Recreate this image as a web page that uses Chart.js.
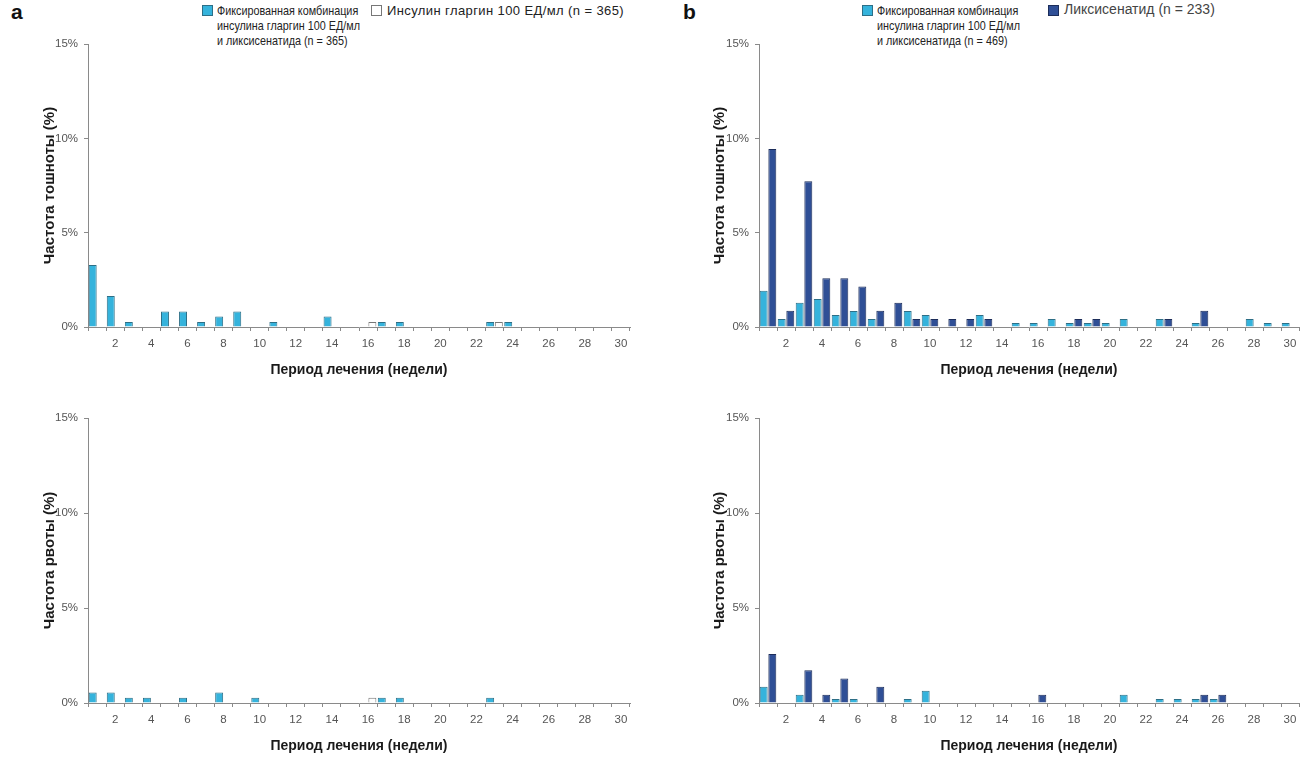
<!DOCTYPE html>
<html>
<head>
<meta charset="utf-8">
<script src="https://cdn.jsdelivr.net/npm/chart.js@4.4.1/dist/chart.umd.min.js"></script>
<style>
  body { margin: 0; width: 1306px; height: 760px; background: #fff; overflow: hidden; position: relative; }
  .pane { position: absolute; }
  .letter { position: absolute; font: bold 21px "Liberation Sans", Arial, sans-serif; color: #111; }
  .leg { position: absolute; font: 13px "Liberation Sans", Arial, sans-serif; line-height: 15px; color: #222; white-space: nowrap; transform-origin: 0 0; }
  .leg.narrow { transform: scaleX(0.83); }
  .leg.spaced { letter-spacing: 0.4px; }
  .leg.wide { font-size: 14px; color: #444; }
  .sw { position: absolute; width: 11px; height: 11px; box-sizing: border-box; }
</style>
</head>
<body>

<div class="letter" style="left:11px; top:0px;">a</div>
<div class="letter" style="left:683px; top:0px;">b</div>

<div class="sw" style="left:202px; top:5px; background:#35b3dc; border:1px solid #2d6f87;"></div>
<div class="leg narrow" style="left:217px; top:3px;">Фиксированная комбинация<br>инсулина гларгин 100 ЕД/мл<br>и ликсисенатида (n = 365)</div>
<div class="sw" style="left:371px; top:5px; background:#fff; border:1px solid #777;"></div>
<div class="leg spaced" style="left:387px; top:3px;">Инсулин гларгин 100 ЕД/мл (n = 365)</div>

<div class="sw" style="left:862px; top:5px; background:#35b3dc; border:1px solid #2d6f87;"></div>
<div class="leg narrow" style="left:877px; top:3px;">Фиксированная комбинация<br>инсулина гларгин 100 ЕД/мл<br>и ликсисенатида (n = 469)</div>
<div class="sw" style="left:1048px; top:5px; background:#2f4f96; border:1px solid #1c2d5a;"></div>
<div class="leg wide" style="left:1064px; top:2px;">Ликсисенатид (n = 233)</div>

<canvas id="aTop" class="pane" width="640" height="363" style="left:0px; top:20px;"></canvas>
<canvas id="aBot" class="pane" width="640" height="365" style="left:0px; top:394px;"></canvas>
<canvas id="bTop" class="pane" width="636" height="363" style="left:670px; top:20px;"></canvas>
<canvas id="bBot" class="pane" width="636" height="365" style="left:670px; top:394px;"></canvas>

<script>
  // weeks of treatment
  const weeks = Array.from({ length: 30 }, (_, i) => String(i + 1));
  const yTicks = [0, 5, 10, 15];

  // panel a: fixed combination (n = 365) vs insulin glargine (n = 365), % of patients
  const aNauseaFRC = [3.29, 1.64, 0.27, 0, 0.82, 0.82, 0.27, 0.55, 0.82, 0, 0.27, 0, 0, 0.55, 0, 0, 0.27, 0.27, 0, 0, 0, 0, 0.27, 0.27, 0, 0, 0, 0, 0, 0];
  const aNauseaGla = [0, 0, 0, 0, 0, 0, 0, 0, 0, 0, 0, 0, 0, 0, 0, 0.27, 0, 0, 0, 0, 0, 0, 0.27, 0, 0, 0, 0, 0, 0, 0];
  const aVomitFRC  = [0.55, 0.55, 0.27, 0.27, 0, 0.27, 0, 0.55, 0, 0.27, 0, 0, 0, 0, 0, 0, 0.27, 0.27, 0, 0, 0, 0, 0.27, 0, 0, 0, 0, 0, 0, 0];
  const aVomitGla  = [0, 0, 0, 0, 0, 0, 0, 0, 0, 0, 0, 0, 0, 0, 0, 0.27, 0, 0, 0, 0, 0, 0, 0, 0, 0, 0, 0, 0, 0, 0];

  // panel b: fixed combination (n = 469) vs lixisenatide (n = 233), % of patients
  const bNauseaFRC = [1.92, 0.43, 1.28, 1.49, 0.64, 0.85, 0.43, 0, 0.85, 0.64, 0, 0, 0.64, 0, 0.21, 0.21, 0.43, 0.21, 0.21, 0.21, 0.43, 0, 0.43, 0, 0.21, 0, 0, 0.43, 0.21, 0.21];
  const bNauseaLix = [9.44, 0.86, 7.73, 2.58, 2.58, 2.15, 0.86, 1.29, 0.43, 0.43, 0.43, 0.43, 0.43, 0, 0, 0, 0, 0.43, 0.43, 0, 0, 0, 0.43, 0, 0.86, 0, 0, 0, 0, 0];
  const bVomitFRC  = [0.85, 0, 0.43, 0, 0.21, 0.21, 0, 0, 0.21, 0.64, 0, 0, 0, 0, 0, 0, 0, 0, 0, 0, 0.43, 0, 0.21, 0.21, 0.21, 0.21, 0, 0, 0, 0];
  const bVomitLix  = [2.58, 0, 1.72, 0.43, 1.29, 0, 0.86, 0, 0, 0, 0, 0, 0, 0, 0, 0.43, 0, 0, 0, 0, 0, 0, 0, 0, 0.43, 0.43, 0, 0, 0, 0];

  const FONT = '"Liberation Sans", Arial, sans-serif';
  const LIGHT = { bg: "#35b3dc", bd: "#2d6f87" };
  const DARK = { bg: "#2f4f96", bd: "#1c2d5a" };
  const WHITE = { bg: "#ffffff", bd: "#777777" };

  function ds(label, data, c) {
    return {
      label: label,
      data: data,
      backgroundColor: c.bg,
      borderColor: c.bd,
      borderWidth: 1,
      borderSkipped: "bottom",
      categoryPercentage: 0.96,
      barPercentage: 0.92
    };
  }

  function makeChart(id, datasets, yTitle, yAxisWidth, padRight) {
    return new Chart(document.getElementById(id), {
      type: "bar",
      data: { labels: weeks, datasets: datasets },
      options: {
        responsive: false,
        animation: false,
        layout: { padding: { top: 24, right: padRight, left: 0, bottom: 0 } },
        plugins: { legend: { display: false }, tooltip: { enabled: false } },
        scales: {
          x: {
            offset: true,
            grid: { offset: true, drawOnChartArea: false, tickLength: 4, color: "#8a8a8a" },
            border: { color: "#8a8a8a" },
            ticks: {
              autoSkip: false,
              maxRotation: 0,
              padding: 6,
              color: "#555",
              font: { family: FONT, size: 11.5 },
              callback: (v, i) => (i % 2 === 1 ? weeks[i] : "")
            },
            title: {
              display: true,
              text: "Период лечения (недели)",
              color: "#1a1a1a",
              font: { family: FONT, size: 14, weight: "bold" },
              padding: { top: 0, bottom: 4 }
            },
            afterFit: (s) => { s.height = 56; }
          },
          y: {
            min: 0,
            max: 15,
            afterBuildTicks: (s) => { s.ticks = yTicks.map(v => ({ value: v })); },
            grid: { drawOnChartArea: false, tickLength: 4, color: "#8a8a8a" },
            border: { color: "#8a8a8a" },
            ticks: {
              padding: 6,
              color: "#555",
              font: { family: FONT, size: 11.5 },
              callback: (v) => v + "%"
            },
            title: {
              display: true,
              text: yTitle,
              color: "#1a1a1a",
              font: { family: FONT, size: 15, weight: "bold" },
              padding: { top: 41, bottom: 0 }
            },
            afterFit: (s) => { s.width = yAxisWidth; }
          }
        }
      }
    });
  }

  makeChart("aTop", [ds("FRC", aNauseaFRC, LIGHT), ds("Glargine", aNauseaGla, WHITE)], "Частота тошноты (%)", 88, 10);
  makeChart("aBot", [ds("FRC", aVomitFRC, LIGHT), ds("Glargine", aVomitGla, WHITE)], "Частота рвоты (%)", 88, 10);
  makeChart("bTop", [ds("FRC", bNauseaFRC, LIGHT), ds("Lixisenatide", bNauseaLix, DARK)], "Частота тошноты (%)", 89, 7);
  makeChart("bBot", [ds("FRC", bVomitFRC, LIGHT), ds("Lixisenatide", bVomitLix, DARK)], "Частота рвоты (%)", 89, 7);
</script>
</body>
</html>
